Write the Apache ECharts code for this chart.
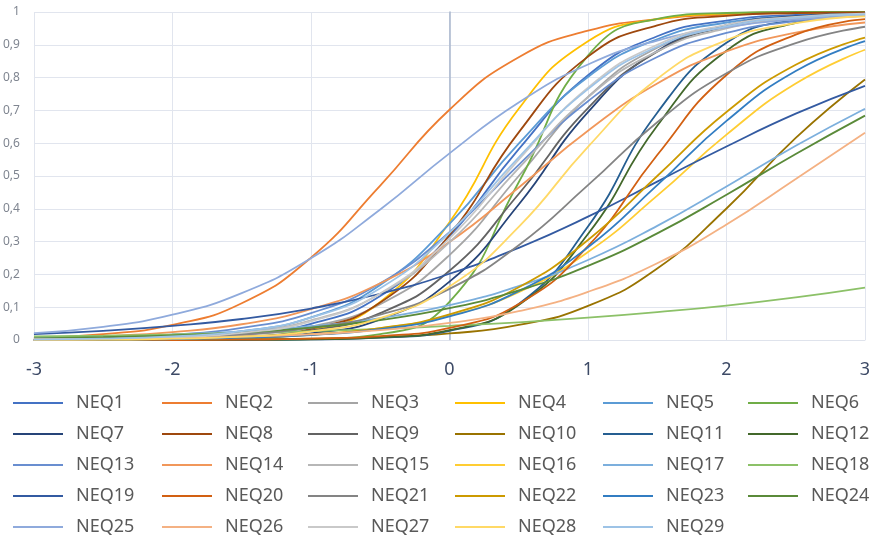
<!DOCTYPE html>
<html>
<head>
<meta charset="utf-8">
<title>NEQ item curves</title>
<script src="https://cdn.jsdelivr.net/npm/echarts@6/dist/echarts.min.js"></script>
<style>
  html, body { margin: 0; padding: 0; background: #fff; }
  #chart { width: 877px; height: 538px; }
</style>
</head>
<body>
<div id="chart"></div>
<script>
var theta = [-3, -2.5, -2, -1.5, -1, -0.5, 0, 0.5, 1, 1.5, 2, 2.5, 3];

var neq1  = [0.001, 0.002, 0.006, 0.017, 0.049, 0.134, 0.317, 0.582, 0.807, 0.926, 0.974, 0.991, 0.997];
var neq2  = [0.007, 0.018, 0.046, 0.112, 0.251, 0.471, 0.702, 0.862, 0.943, 0.978, 0.992, 0.997, 0.999];
var neq3  = [0.001, 0.002, 0.005, 0.015, 0.041, 0.109, 0.259, 0.500, 0.741, 0.891, 0.959, 0.985, 0.995];
var neq4  = [0.000, 0.000, 0.002, 0.007, 0.030, 0.116, 0.359, 0.705, 0.911, 0.978, 0.995, 0.999, 1.000];
var neq5  = [0.001, 0.004, 0.010, 0.027, 0.069, 0.168, 0.354, 0.599, 0.802, 0.917, 0.968, 0.988, 0.996];
var neq6  = [0.000, 0.000, 0.000, 0.000, 0.003, 0.018, 0.116, 0.481, 0.867, 0.979, 0.997, 1.000, 1.000];
var neq7  = [0.000, 0.001, 0.002, 0.006, 0.020, 0.063, 0.178, 0.413, 0.695, 0.881, 0.960, 0.987, 0.996];
var neq8  = [0.000, 0.001, 0.003, 0.009, 0.034, 0.114, 0.320, 0.633, 0.864, 0.959, 0.988, 0.997, 0.999];
var neq9  = [0.000, 0.001, 0.003, 0.010, 0.029, 0.082, 0.211, 0.445, 0.707, 0.879, 0.956, 0.985, 0.995];
var neq10 = [0.000, 0.000, 0.001, 0.002, 0.004, 0.008, 0.020, 0.046, 0.104, 0.218, 0.401, 0.616, 0.794];
var neq11 = [0.000, 0.000, 0.000, 0.000, 0.002, 0.007, 0.028, 0.110, 0.346, 0.693, 0.906, 0.976, 0.994];
var neq12 = [0.000, 0.000, 0.000, 0.001, 0.002, 0.008, 0.030, 0.107, 0.323, 0.653, 0.882, 0.967, 0.992];
var neq13 = [0.003, 0.007, 0.016, 0.037, 0.082, 0.173, 0.329, 0.534, 0.728, 0.863, 0.936, 0.972, 0.988];
var neq14 = [0.006, 0.012, 0.024, 0.048, 0.094, 0.173, 0.299, 0.465, 0.638, 0.782, 0.880, 0.937, 0.968];
var neq15 = [0.001, 0.004, 0.009, 0.024, 0.060, 0.141, 0.298, 0.524, 0.740, 0.880, 0.950, 0.980, 0.992];
var neq16 = [0.001, 0.002, 0.004, 0.008, 0.017, 0.036, 0.074, 0.146, 0.268, 0.440, 0.626, 0.782, 0.885];
var neq17 = [0.006, 0.010, 0.016, 0.026, 0.042, 0.067, 0.106, 0.164, 0.244, 0.348, 0.468, 0.592, 0.705];
var neq18 = [0.011, 0.013, 0.017, 0.022, 0.027, 0.034, 0.043, 0.054, 0.068, 0.085, 0.105, 0.130, 0.160];
var neq19 = [0.018, 0.028, 0.043, 0.064, 0.096, 0.141, 0.202, 0.281, 0.376, 0.483, 0.590, 0.690, 0.775];
var neq20 = [0.000, 0.000, 0.000, 0.001, 0.004, 0.012, 0.037, 0.110, 0.286, 0.564, 0.808, 0.931, 0.978];
var neq21 = [0.002, 0.004, 0.008, 0.017, 0.037, 0.077, 0.156, 0.289, 0.472, 0.664, 0.813, 0.905, 0.955];
var neq22 = [0.001, 0.001, 0.003, 0.007, 0.016, 0.036, 0.078, 0.161, 0.305, 0.500, 0.695, 0.839, 0.922];
var neq23 = [0.001, 0.001, 0.003, 0.007, 0.015, 0.033, 0.072, 0.149, 0.283, 0.472, 0.668, 0.820, 0.911];
var neq24 = [0.005, 0.009, 0.014, 0.023, 0.038, 0.061, 0.097, 0.151, 0.226, 0.325, 0.443, 0.567, 0.684];
var neq25 = [0.021, 0.040, 0.077, 0.143, 0.249, 0.398, 0.569, 0.724, 0.840, 0.913, 0.954, 0.977, 0.988];
var neq26 = [0.002, 0.003, 0.005, 0.010, 0.017, 0.030, 0.052, 0.088, 0.147, 0.234, 0.352, 0.491, 0.632];
var neq27 = [0.001, 0.003, 0.008, 0.022, 0.057, 0.142, 0.310, 0.550, 0.769, 0.900, 0.961, 0.985, 0.995];
var neq28 = [0.001, 0.001, 0.004, 0.010, 0.026, 0.067, 0.163, 0.345, 0.589, 0.796, 0.914, 0.966, 0.987];
var neq29 = [0.002, 0.004, 0.011, 0.027, 0.068, 0.158, 0.327, 0.557, 0.765, 0.894, 0.956, 0.983, 0.993];

var curves = [neq1, neq2, neq3, neq4, neq5, neq6, neq7, neq8, neq9, neq10,
              neq11, neq12, neq13, neq14, neq15, neq16, neq17, neq18, neq19, neq20,
              neq21, neq22, neq23, neq24, neq25, neq26, neq27, neq28, neq29];

var xTicks = [-3, -2, -1, 0, 1, 2, 3];

// office-style series colours
var colors = [
  '#4472C4', '#ED7D31', '#A5A5A5', '#FFC000', '#5B9BD5', '#70AD47',
  '#264478', '#9E480E', '#636363', '#997300', '#255E91', '#43682B',
  '#698ED0', '#F1975A', '#B7B7B7', '#FFCD33', '#7CAFDD', '#8CC168',
  '#335AA1', '#D26012', '#848484', '#CC9A00', '#327DC2', '#5A8A39',
  '#8FAADC', '#F4B183', '#C9C9C9', '#FFD966', '#9DC3E6'
];

var names = curves.map(function (c, i) { return 'NEQ' + (i + 1); });

var series = curves.map(function (vals, i) {
  return {
    name: names[i],
    type: 'line',
    smooth: 0.5,
    symbol: 'none',
    lineStyle: { width: 1.8, color: colors[i] },
    itemStyle: { color: colors[i] },
    data: theta.map(function (t, k) { return [t, vals[k]]; })
  };
});

// legend laid out in 6 columns, 5 rows
var colLeft = [13, 162, 308, 455, 603, 748];
var legends = colLeft.map(function (x, c) {
  var col = [];
  for (var r = c; r < names.length; r += 6) col.push(names[r]);
  return {
    orient: 'vertical',
    left: x,
    top: 393,
    height: 145,
    padding: 0,
    icon: 'rect',
    itemWidth: 50,
    itemHeight: 2,
    itemGap: 11,
    selectedMode: false,
    data: col,
    textStyle: { fontFamily: 'Noto Sans', fontSize: 18, lineHeight: 20, color: '#595959', padding: [0, 0, 0, 8] }
  };
});

var chart = echarts.init(document.getElementById('chart'));
chart.setOption({
  animation: false,
  color: colors,
  grid: { left: 31, right: 12, top: 12, bottom: 198, containLabel: false },
  legend: legends,
  xAxis: {
    type: 'value',
    min: -3,
    max: 3,
    interval: 1,
    axisLine: { show: true, lineStyle: { color: '#dfe3ec', width: 1 } },
    axisTick: { show: false },
    axisLabel: {
      margin: 21,
      fontFamily: 'Noto Sans',
      fontSize: 18,
      color: '#3d4a66',
      formatter: function (v) { return xTicks.indexOf(v) >= 0 ? String(v) : ''; }
    },
    splitLine: { show: true, lineStyle: { color: '#e1e5ee', width: 1 } }
  },
  yAxis: {
    type: 'value',
    min: 0,
    max: 1,
    interval: 0.1,
    axisLine: { show: true, onZero: true, lineStyle: { color: '#a9b6cc', width: 1.5 } },
    axisTick: { show: false },
    axisLabel: {
      margin: 14,
      fontFamily: 'Noto Sans',
      fontSize: 12,
      color: '#7f8590',
      formatter: function (v) { return String(Math.round(v * 10) / 10).replace('.', ','); }
    },
    splitLine: { show: true, lineStyle: { color: '#e1e5ee', width: 1 } }
  },
  series: series
});
</script>
</body>
</html>
